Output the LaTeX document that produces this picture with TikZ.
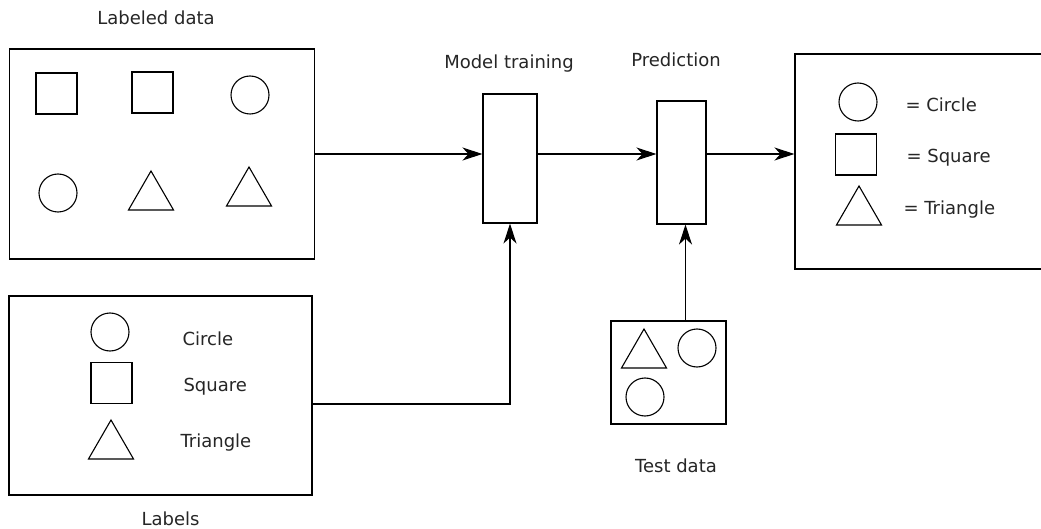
\documentclass[tikz,border=0pt]{standalone}
\usepackage{fontspec}
\setmainfont{DejaVu Sans}
\usetikzlibrary{arrows.meta,shapes.geometric}
\begin{document}
\begin{tikzpicture}[x=1pt,y=-1pt,
  line width=1.1pt,
  box/.style={draw, rectangle, inner sep=0pt},
  circ/.style={draw, circle, minimum size=38pt, inner sep=0pt},
  sq/.style={draw, rectangle, minimum size=41pt, inner sep=0pt},
  tri/.style={draw, regular polygon, regular polygon sides=3, minimum size=52pt, inner sep=0pt},
  lbl/.style={font=\fontsize{18}{20}\selectfont, text=black!85, inner sep=0pt},
  arr/.style={-{Stealth[length=20pt,width=13pt,inset=6pt]}}]
\useasboundingbox (0,0) rectangle (1041,529);
\clip (0,0) rectangle (1041,529);
\fill[white] (0,0) rectangle (1041,529);

% boxes
\node[box, minimum width=305pt, minimum height=210pt] (labeled) at (162,154) {};
\node[box, minimum width=54pt, minimum height=129pt] (model) at (510,158.5) {};
\node[box, minimum width=49pt, minimum height=123pt] (pred) at (681.5,162.5) {};
\node[box, minimum width=265pt, minimum height=215pt] (result) at (927.5,161.5) {};
\node[box, minimum width=303pt, minimum height=199pt] (labels) at (160.5,395.5) {};
\node[box, minimum width=115pt, minimum height=103pt] (test) at (668.5,372.5) {};

% labeled data shapes
\node[sq] (ls1) at (56.5,93.5) {};
\node[sq] (ls2) at (152.5,92.5) {};
\node[circ] (lc1) at (250,95) {};
\node[circ] (lc2) at (58,193) {};
\node[tri] (lt1) at (151,197) {};
\node[tri] (lt2) at (249,193) {};

% result shapes
\node[circ] (rc) at (858,102) {};
\node[sq] (rs) at (856,154.5) {};
\node[tri] (rt) at (859,212) {};
\node[lbl, anchor=base west] (rtc) at (905,112) {= Circle};
\node[lbl, anchor=base west] (rts) at (906,163) {= Square};
\node[lbl, anchor=base west] (rtt) at (903,215) {= Triangle};

% labels shapes
\node[circ] (bc) at (110,332) {};
\node[sq] (bs) at (111.5,383) {};
\node[tri] (bt) at (111,446) {};
\node[lbl, anchor=base west] (btc) at (182,345) {Circle};
\node[lbl, anchor=base west] (bts) at (183,391) {Square};
\node[lbl, anchor=base west] (btt) at (180,447) {Triangle};

% test shapes
\node[tri] (tt) at (644,355) {};
\node[circ] (tc1) at (697,348) {};
\node[circ] (tc2) at (645,397) {};

% titles
\node[lbl, anchor=base] (tLabeled) at (156,25) {Labeled data};
\node[lbl, anchor=base] (tModel) at (509,69) {Model training};
\node[lbl, anchor=base] (tPred) at (676,67) {Prediction};
\node[lbl, anchor=base] (tTest) at (676,472) {Test data};
\node[lbl, anchor=base] (tLabels) at (170.5,525) {Labels};

% connectors
\draw[arr] (labeled.east) -- (labeled.east -| model.west);
\draw[arr] (labeled.east -| model.east) -- (labeled.east -| pred.west);
\draw[arr] (labeled.east -| pred.east) -- (labeled.east -| result.west);
\draw[arr] ([yshift=-8.5pt]labels.east) -| (model.south);
\draw[arr] ([xshift=17pt]test.north) -- ([xshift=17pt]test.north |- pred.south);
\end{tikzpicture}
\end{document}
